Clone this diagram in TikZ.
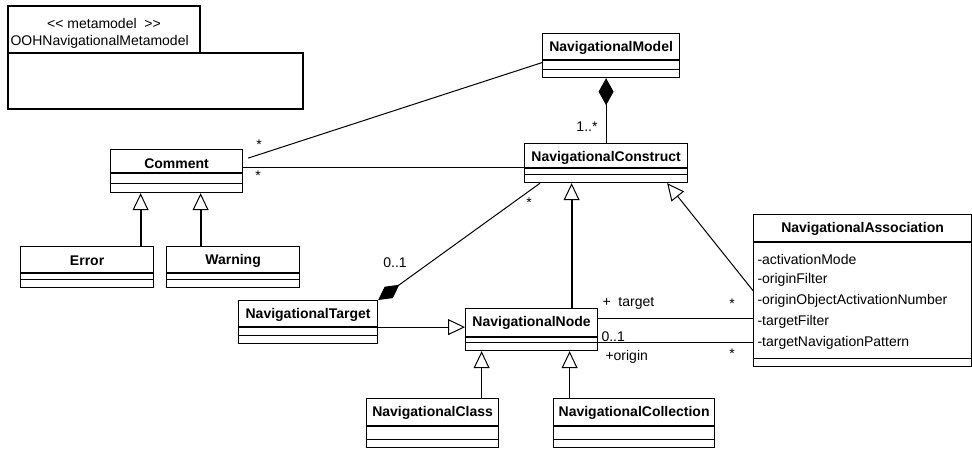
\documentclass[tikz,border=0pt]{standalone}
\usepackage{fontspec}
\setmainfont{Liberation Sans}
\usetikzlibrary{arrows.meta}

\tikzset{
  clase/.style={draw, line width=1.2pt, anchor=north west, inner sep=0pt, fill=white},
  titulo/.style={font=\fontsize{14}{16}\selectfont\bfseries, inner sep=0pt},
  texto/.style={inner sep=0pt},
  hereda/.style={-{Triangle[open, length=17pt, width=16pt, line width=1pt]}},
  compone/.style={-{Diamond[length=27pt, width=15pt]}}
}
% caja de clase: nombre, esquina, ancho, alto, titulo
\newcommand{\clase}[5]{%
  \node[clase, minimum width=#3pt, minimum height=#4pt] (#1) at (#2) {};
  \node[titulo] (#1-t) at ([yshift=-14.5pt]#1.north) {#5};
}
% lineas de los compartimentos
\newcommand{\separa}[3]{%
  \draw[line width=1.8pt] ([yshift=-#2pt]#1.north west) -- ([yshift=-#2pt]#1.north east);
  \draw[line width=1pt] ([yshift=-#3pt]#1.north west) -- ([yshift=-#3pt]#1.north east);
}

\begin{document}
\begin{tikzpicture}[x=1pt, y=-1pt, font=\fontsize{14}{16}\selectfont, line width=1pt]
  \useasboundingbox (0,0) rectangle (972,448);

  % Paquete del metamodelo
  \draw[line width=1.2pt] (8,6) rectangle (200,53);
  \draw[line width=1.2pt] (8,53) rectangle (303,109);
  \node[texto] (estereotipo) at (104,23) {<\kern0pt<\ metamodel\ \ >\kern0pt>};
  \node[texto, anchor=west] (paquete) at (10,42) {OOHNavigationalMetamodel};

  % Clases
  \clase{nm}{542,33}{137}{44}{NavigationalModel}
  \separa{nm}{27}{36}
  \clase{nc}{524,143}{163}{39}{NavigationalConstruct}
  \separa{nc}{25}{31}
  \clase{co}{110,149}{132}{43}{Comment}
  \separa{co}{24}{34}
  \clase{er}{20,246}{133}{41}{Error}
  \separa{er}{27}{33}
  \clase{wa}{166,246}{133}{41}{Warning}
  \separa{wa}{27}{33}
  \clase{nt}{238,300}{139}{43}{NavigationalTarget}
  \separa{nt}{27}{35}
  \clase{nn}{465,308}{132}{42}{NavigationalNode}
  \separa{nn}{29}{34}
  \clase{ncl}{366,398}{132}{49}{NavigationalClass}
  \separa{ncl}{28}{41}
  \clase{nco}{553,398}{161}{49}{NavigationalCollection}
  \separa{nco}{28}{41}
  \clase{na}{753,214}{218}{152}{NavigationalAssociation}
  \separa{na}{28}{144}

  % Atributos de la asociacion
  \foreach \atr [count=\i] in {-activationMode, -originFilter, -originObjectActivationNumber, -targetFilter, -targetNavigationPattern} {
      \node[texto, anchor=west] (atr\i) at (757, {238+21*\i}) {\atr};
    }

  % Herencias
  \draw[hereda, line width=2pt] ([xshift=53.5pt]er.north) -- ([xshift=53.5pt]er.north |- co.south);
  \draw[hereda, line width=2pt] ([xshift=-32.5pt]wa.north) -- ([xshift=-32.5pt]wa.north |- co.south);
  \draw[hereda, line width=2pt] ([xshift=40pt]nn.north) -- ([xshift=40pt]nn.north |- nc.south);
  \draw[hereda] (na.west) -- ([xshift=-21pt]nc.south east);
  \draw[hereda] ([yshift=-5pt]nt.east) -- ([yshift=-5pt]nt.east -| nn.west);
  \draw[hereda] ([xshift=49pt]ncl.north) -- ([xshift=49pt]ncl.north |- nn.south);
  \draw[hereda] ([xshift=-64.5pt]nco.north) -- ([xshift=-64.5pt]nco.north |- nn.south);

  % Composiciones
  \draw[compone] (nc.north) -- (nc.north |- nm.south);
  \draw[-{Diamond[length=26pt, width=14pt]}] ([xshift=16pt]nc.south west) -- (nt.north east);

  % Asociaciones
  \draw ([xshift=5pt, yshift=13pt]co.east) -- ([yshift=-7pt]nm.west);
  \draw ([yshift=4pt]co.east) -- ([yshift=4pt]co.east -| nc.west);
  \draw ([yshift=11pt]nn.east) -- ([yshift=11pt]nn.east -| na.west);
  \draw ([yshift=-13pt]nn.east) -- ([yshift=-13pt]nn.east -| na.west);

  % Multiplicidades y roles
  \node[texto] (m1) at (259,144.5) {*};
  \node[texto] (m2) at (258,175.5) {*};
  \node[texto] (m3) at (587,127) {1..*};
  \node[texto] (m4) at (529,202.5) {*};
  \node[texto] (m5) at (395,263) {0..1};
  \node[texto, anchor=west] (r1) at (602,303) {+\ \ target};
  \node[texto] (m6) at (732,303.5) {*};
  \node[texto, anchor=west] (m7) at (601,337) {0..1};
  \node[texto, anchor=west] (r2) at (605,357) {+origin};
  \node[texto] (m8) at (732,353.5) {*};
\end{tikzpicture}
\end{document}
